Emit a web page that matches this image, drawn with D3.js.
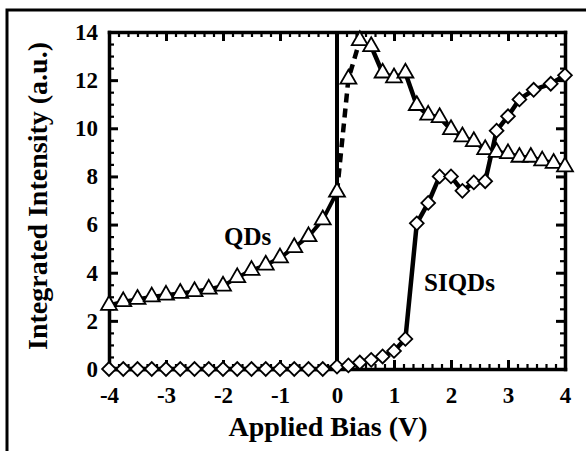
<!DOCTYPE html>
<html>
<head>
<meta charset="utf-8">
<script src="https://cdn.jsdelivr.net/npm/d3@7"></script>
<style>
  body { margin: 0; background: #fff; }
  svg text { font-family: "Liberation Serif", "Times New Roman", serif; font-weight: bold; fill: #000; }
</style>
</head>
<body>
<div id="chart"></div>
<script>
// QDs (triangles)
const qdsBias = [-4, -3.75, -3.5, -3.25, -3, -2.75, -2.5, -2.25, -2, -1.75, -1.5, -1.25, -1, -0.75, -0.5, -0.25, 0,
  0.2, 0.4, 0.6, 0.8, 1.0, 1.2, 1.4, 1.6, 1.8, 2.0, 2.2, 2.4, 2.6, 2.8, 3.0, 3.2, 3.4, 3.6, 3.8, 4.0];
const qdsIntensity = [2.65, 2.8, 2.9, 3.0, 3.07, 3.15, 3.22, 3.32, 3.45, 3.8, 4.1, 4.32, 4.62, 5.05, 5.5, 6.2, 7.35,
  12.05, 13.65, 13.4, 12.3, 12.1, 12.3, 10.95, 10.55, 10.45, 9.95, 9.65, 9.45, 9.12, 9.0, 8.95, 8.8, 8.8, 8.65, 8.55, 8.4];

// SIQDs (diamonds)
const siqdsBias = [-4, -3.75, -3.5, -3.25, -3, -2.75, -2.5, -2.25, -2, -1.75, -1.5, -1.25, -1, -0.75, -0.5, -0.25, 0,
  0.2, 0.4, 0.6, 0.8, 1.0, 1.2, 1.4, 1.6, 1.8, 2.0, 2.2, 2.4, 2.6, 2.8, 3.0, 3.2, 3.45, 3.75, 4.0];
const siqdsIntensity = [0, 0, 0, 0, 0, 0, 0, 0, 0, 0, 0, 0, 0, 0, 0, 0, 0.1,
  0.15, 0.27, 0.38, 0.52, 0.75, 1.25, 6.05, 6.9, 8.0, 8.0, 7.4, 7.75, 7.8, 9.9, 10.5, 11.2, 11.6, 11.85, 12.2];

const xTicks = [-4, -3, -2, -1, 0, 1, 2, 3, 4];
const yTicks = [0, 2, 4, 6, 8, 10, 12, 14];
const xTitle = 'Applied Bias (V)';
const yTitle = 'Integrated Intensity (a.u.)';
const seriesNames = ['QDs', 'SIQDs'];

const W = 587;
const H = 451;
const margin = { t: 32, r: 22, b: 82, l: 109 };

const svg = d3.select('#chart')
  .append('svg')
  .attr('width', W)
  .attr('height', H);

// outer frame (only top and left edges visible in the scan)
svg.append('path')
  .attr('d', 'M7,451 L7,10 L586,10')
  .attr('fill', 'none')
  .attr('stroke', '#000')
  .attr('stroke-width', 3);

const scaleX = d3.scaleLinear().domain([-4, 4]).range([margin.l, W - margin.r]);
const scaleY = d3.scaleLinear().domain([0, 14]).range([H - margin.b, margin.t]);

// minor tick values
const xMinor = d3.range(-4, 4.001, 1 / 6).filter(v => Math.abs(v - Math.round(v)) > 0.01);
const yMinor = d3.range(0, 14.001, 0.5).filter(v => v % 2 !== 0);

const x0 = scaleX.range()[0];
const x1 = scaleX.range()[1];
const y0 = scaleY.range()[0];
const y1 = scaleY.range()[1];

function styleAxis(g) {
  g.select('.domain').attr('stroke-width', 3.5).attr('stroke-linecap', 'square');
  g.selectAll('.tick line').attr('stroke-width', 3);
  g.selectAll('text')
    .attr('font-size', 23)
    .attr('font-family', '"Liberation Serif", serif')
    .attr('font-weight', 'bold')
    .attr('fill', '#000');
}

function addAxis(axisFn, scale, ticks, minors, transform, labels) {
  const major = axisFn(scale)
    .tickValues(ticks)
    .tickSizeInner(-9)
    .tickSizeOuter(0)
    .tickPadding(labels ? (axisFn === d3.axisBottom ? 18 : 11) : 0)
    .tickFormat(labels ? (d => d) : () => '');
  const minor = axisFn(scale)
    .tickValues(minors)
    .tickSizeInner(-5)
    .tickSizeOuter(0)
    .tickFormat(() => '');
  svg.append('g').attr('transform', transform).call(minor)
    .call(g => g.select('.domain').remove())
    .selectAll('.tick line').attr('stroke-width', 2.2);
  svg.append('g').attr('transform', transform).call(major).call(styleAxis);
}

addAxis(d3.axisBottom, scaleX, xTicks, xMinor, `translate(0, ${y0})`, true);
addAxis(d3.axisTop, scaleX, xTicks, xMinor, `translate(0, ${y1})`, false);
addAxis(d3.axisLeft, scaleY, yTicks, yMinor, `translate(${x0}, 0)`, true);
addAxis(d3.axisRight, scaleY, yTicks, yMinor, `translate(${x1}, 0)`, false);

// zero-bias line
svg.append('line')
  .attr('x1', scaleX(0)).attr('x2', scaleX(0))
  .attr('y1', y1).attr('y2', y0)
  .attr('stroke', '#000')
  .attr('stroke-width', 4);

const qds = qdsBias.map((b, i) => ({ b, v: qdsIntensity[i] }));
const siqds = siqdsBias.map((b, i) => ({ b, v: siqdsIntensity[i] }));

const line = d3.line().x(d => scaleX(d.b)).y(d => scaleY(d.v));

// QDs line: dashed right after 0 V, solid elsewhere
svg.append('path')
  .datum(qds.filter(d => d.b <= 0))
  .attr('fill', 'none').attr('stroke', '#000').attr('stroke-width', 4)
  .attr('d', line);
svg.append('path')
  .datum(qds.filter(d => d.b >= 0 && d.b <= 0.6))
  .attr('fill', 'none').attr('stroke', '#000').attr('stroke-width', 4.5)
  .attr('stroke-dasharray', '9,6')
  .attr('d', line);
svg.append('path')
  .datum(qds.filter(d => d.b >= 0.6))
  .attr('fill', 'none').attr('stroke', '#000').attr('stroke-width', 4.5)
  .attr('d', line);

svg.append('path')
  .datum(siqds)
  .attr('fill', 'none').attr('stroke', '#000').attr('stroke-width', 4.5)
  .attr('d', line);

// markers
svg.append('g')
  .selectAll('path')
  .data(qds)
  .join('path')
  .attr('transform', d => `translate(${scaleX(d.b)}, ${scaleY(d.v)})`)
  .attr('d', d3.symbol(d3.symbolTriangle, 110))
  .attr('fill', '#fff')
  .attr('stroke', '#000')
  .attr('stroke-width', 1.8);

svg.append('g')
  .selectAll('path')
  .data(siqds)
  .join('path')
  .attr('transform', d => `translate(${scaleX(d.b)}, ${scaleY(d.v)}) rotate(45)`)
  .attr('d', d3.symbol(d3.symbolSquare, 95))
  .attr('fill', '#fff')
  .attr('stroke', '#000')
  .attr('stroke-width', 1.8);

// series labels
svg.append('text')
  .attr('x', 224).attr('y', 245)
  .attr('font-size', 25)
  .text(seriesNames[0]);
svg.append('text')
  .attr('x', 424).attr('y', 291)
  .attr('font-size', 25)
  .text(seriesNames[1]);

// axis titles
svg.append('text')
  .attr('x', 328).attr('y', 436)
  .attr('text-anchor', 'middle')
  .attr('font-size', 28)
  .text(xTitle);
svg.append('text')
  .attr('transform', 'translate(47, 196) rotate(-90)')
  .attr('text-anchor', 'middle')
  .attr('font-size', 28)
  .text(yTitle);
</script>
</body>
</html>
